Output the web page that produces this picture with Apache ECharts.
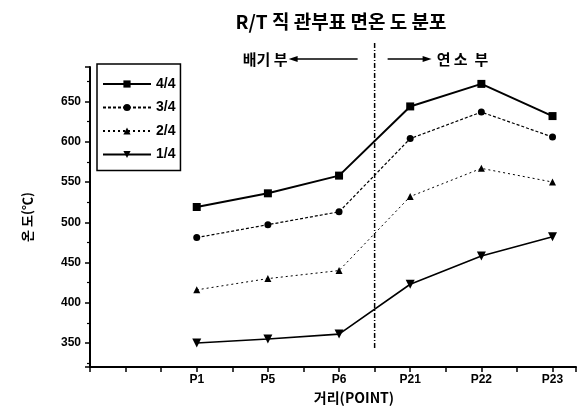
<!DOCTYPE html>
<html><head><meta charset="utf-8">
<script src="https://cdn.jsdelivr.net/npm/echarts@6/dist/echarts.min.js"></script>
<style>html,body{margin:0;padding:0;background:#fff}#c{width:579px;height:410px}</style>
</head><body><div id="c"></div>
<script>
const categories = ['P1', 'P5', 'P6', 'P21', 'P22', 'P23'];
const seriesNames = ['4/4', '3/4', '2/4', '1/4'];
const load44 = [519, 536, 558, 644, 672, 632];
const load34 = [481, 497, 513, 604, 637, 606];
const load24 = [416, 430, 440, 532, 567, 550];
const load14 = [350, 355, 361, 423, 458, 482];
const dividerAt = 3.5; // between P6 and P21
const title = 'R/T 직 관부표 면온 도 분포';
const yName = '온 도(℃)';
const xName = '거리(POINT)';
const leftNote = '배기 부';
const rightNote = '연 소  부';

const KR = '"Noto Sans CJK KR", sans-serif';
const LAT = '"Liberation Sans", Arial, sans-serif';
const toPts = arr => arr.map((v, i) => [i + 1, v]);

const chart = echarts.init(document.getElementById('c'), null, {renderer: 'canvas'});
const mk = (name, data, sym, size, lw, type, rot) => ({
  name, type: 'line', data: toPts(data), symbol: sym, symbolSize: size, symbolRotate: rot || 0,
  lineStyle: {color: '#000', width: lw, type: type},
  itemStyle: {color: '#000'}, animation: false, z: 3
});
chart.setOption({
  animation: false,
  title: {text: title, left: 336, textAlign: 'center', top: 7,
    textStyle: {fontFamily: KR, fontSize: 19, fontWeight: 'bold', color: '#000'}},
  grid: {left: 90, right: 0, top: 67, bottom: 38},
  legend: {
    orient: 'vertical', left: 97, top: 64, data: seriesNames,
    itemWidth: 48, itemHeight: 9, itemGap: 9.5,
    padding: [13, 5, 9, 5], borderColor: '#000', borderWidth: 1.5,
    textStyle: {fontFamily: LAT, fontSize: 14, fontWeight: 'bold', color: '#000'},
    inactiveColor: '#000'
  },
  xAxis: {
    type: 'value', min: -0.5, max: 6.33, interval: 0.5,
    name: xName, nameLocation: 'middle', nameGap: 22,
    nameTextStyle: {fontFamily: KR, fontSize: 14, fontWeight: 'bold', color: '#000', padding: [0, 0, 0, 42]},
    axisLine: {onZero: false, lineStyle: {color: '#000', width: 2}},
    axisTick: {show: true, length: 5, lineStyle: {color: '#000', width: 1.5}},
    splitLine: {show: false},
    axisLabel: {
      margin: 7, fontFamily: LAT, fontSize: 12, fontWeight: 'bold', color: '#000',
      formatter: v => (Number.isInteger(v) && v >= 1 && v <= categories.length) ? categories[v - 1] : ''
    }
  },
  yAxis: {
    type: 'value', min: 320, max: 693, minInterval: 50, maxInterval: 50,
    name: yName, nameLocation: 'middle', nameGap: 56, nameRotate: 90,
    nameTextStyle: {fontFamily: KR, fontSize: 13, fontWeight: 'bold', color: '#000'},
    axisLine: {show: true, onZero: false, lineStyle: {color: '#000', width: 2}},
    axisTick: {show: true, length: 5, lineStyle: {color: '#000', width: 1.5}},
    minorTick: {show: true, splitNumber: 2, length: 3, lineStyle: {color: '#000', width: 1.2}},
    splitLine: {show: false},
    axisLabel: {margin: 9, showMinLabel: false, showMaxLabel: false,
      fontFamily: LAT, fontSize: 12, fontWeight: 'bold', color: '#000'}
  },
  series: [
    mk(seriesNames[0], load44, 'rect', 8, 2, 'solid'),
    mk(seriesNames[1], load34, 'circle', 7, 1.2, [3, 2]),
    mk(seriesNames[2], load24, 'triangle', 7, 1, [2, 3]),
    mk(seriesNames[3], load14, 'triangle', 9, 1.6, 'solid', 180)
  ]
});

// divider annotation positioned through the axis scale
const dx = chart.convertToPixel({xAxisIndex: 0}, dividerAt);
const ay = 59;
chart.setOption({
  graphic: [
    {type: 'line', shape: {x1: dx, y1: 43, x2: dx, y2: 350},
      style: {stroke: '#000', lineWidth: 1.5, lineDash: [5, 2, 1, 2]}, z: 10},
    {type: 'text', style: {text: leftNote, x: dx - 87, y: ay, align: 'right', verticalAlign: 'middle',
      font: 'bold 15px ' + KR, fill: '#000'}},
    {type: 'line', shape: {x1: dx - 82, y1: ay, x2: dx - 17, y2: ay}, style: {stroke: '#000', lineWidth: 1.5}},
    {type: 'polygon', shape: {points: [[dx - 86, ay], [dx - 77, ay - 3], [dx - 77, ay + 3]]}, style: {fill: '#000'}},
    {type: 'line', shape: {x1: dx + 13, y1: ay, x2: dx + 52, y2: ay}, style: {stroke: '#000', lineWidth: 1.5}},
    {type: 'polygon', shape: {points: [[dx + 57, ay], [dx + 48, ay - 3], [dx + 48, ay + 3]]}, style: {fill: '#000'}},
    {type: 'text', style: {text: rightNote, x: dx + 62, y: ay, align: 'left', verticalAlign: 'middle',
      font: 'bold 15px ' + KR, fill: '#000'}}
  ]
});
</script></body></html>
